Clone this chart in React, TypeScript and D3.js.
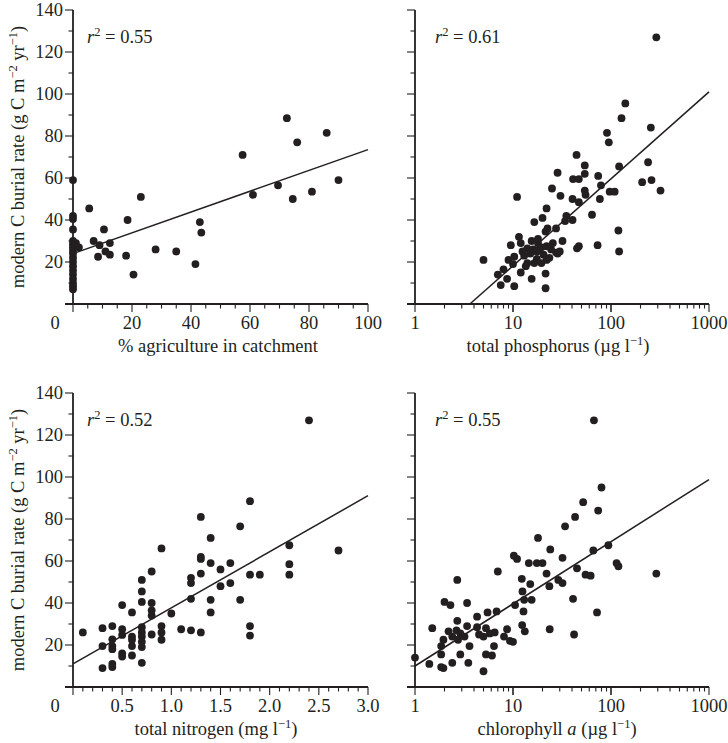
import React from 'react';
import * as d3 from 'd3';

// ---------- data ----------
const agriculturePoints: [number, number][] = [
  [0, 59], [0, 42], [0, 40.5], [0, 35.5], [0, 30], [0, 28.5], [0, 27], [0, 25.5], [0, 24], [0, 22],
  [0, 20], [0, 18], [0, 16], [0, 14], [0, 12], [0, 10], [0, 8.5], [0, 7],
  [1, 29], [2, 27], [5.5, 45.5], [7, 30], [9, 28], [8.5, 22.5], [10.5, 35.5], [11, 25], [12.5, 29],
  [12.5, 23.5], [18.5, 40], [18, 23], [20.5, 14], [23, 51], [28, 26], [35, 25], [41.5, 19], [43, 39],
  [43.5, 34], [57.5, 71], [61, 52], [69.5, 56.5], [72.5, 88.5], [74.5, 50], [76, 77], [81, 53.5],
  [86, 81.5], [90, 59],
];

const phosphorusPoints: [number, number][] = [
  [290, 127], [140, 95.5], [128, 88.5], [255, 84], [91, 81.5], [95, 77], [44.5, 71], [54, 66], [121, 65.5],
  [239, 67.5], [28.5, 62.5], [54, 62], [74, 61], [41, 59.5], [47, 59.5], [79, 56.5], [208, 58], [259, 59],
  [25, 55], [54, 54], [97, 53.5], [109, 53.5], [320, 54], [11, 51], [30.5, 51.5], [55, 52], [40.5, 50],
  [47, 48.5], [77, 50], [22, 45.5], [35, 42], [64, 42.5], [16.5, 39], [20, 41], [34, 39.5], [40.5, 40],
  [22.5, 36], [27.5, 36], [21.5, 34.5], [119, 35], [11.5, 32], [15.5, 30], [32, 30], [9.5, 28], [12, 29],
  [18, 29], [25.5, 29], [14, 26.5], [16, 26], [19.5, 27], [45, 26.5], [47, 27.5], [73, 28], [5, 21], [9, 21],
  [10.3, 22.5], [12.5, 25], [15, 24], [17.5, 25], [20.5, 23.5], [23.5, 22], [27.5, 24.5], [28.5, 24],
  [121, 25], [10, 19], [14, 19.5], [17.5, 21.5], [19.5, 19.5], [22, 21], [8, 16.5], [13.5, 18], [12, 15],
  [7, 14], [8.7, 12], [7.5, 9], [10.3, 8.5], [15.5, 12], [21.5, 14.5], [21.5, 7.5], [18.5, 26], [16.5, 19.5],
  [22, 27.5], [30, 25], [24.5, 26], [18, 31], [13, 23],
];

const nitrogenPoints: [number, number][] = [
  [2.4, 127], [1.8, 88.5], [1.3, 81], [1.7, 76.5], [1.4, 71], [0.9, 66], [2.2, 67.5], [2.7, 65], [1.3, 62],
  [1.3, 61], [1.4, 59], [1.6, 59], [1.5, 56], [2.2, 58.5], [0.8, 55], [1.8, 53.5], [1.9, 53.5], [2.2, 53.5],
  [1.2, 52], [1.2, 49.5], [1.3, 54], [0.7, 51], [1.5, 48], [1.6, 49.5], [0.7, 45.5], [1.2, 42], [1.4, 41.5],
  [1.7, 41.5], [0.7, 40.5], [0.8, 40], [0.5, 39], [0.6, 35.5], [0.8, 36.5], [0.8, 34], [1.0, 35], [1.4, 35.5],
  [0.3, 28], [0.1, 26], [0.4, 29], [0.5, 27.5], [0.5, 24.8], [0.6, 24], [0.6, 22.5], [0.6, 19.5], [0.7, 28.5],
  [0.7, 26], [0.7, 24], [0.7, 21.5], [0.7, 19], [0.8, 25], [0.9, 29], [0.9, 26], [0.9, 22.5], [1.1, 27.5],
  [1.2, 27], [1.3, 26], [1.8, 29], [1.8, 24.5], [0.3, 19.5], [0.4, 22.7], [0.4, 19.5], [0.4, 18], [0.5, 16],
  [0.5, 14.5], [0.6, 15], [0.7, 11.5], [0.3, 9], [0.4, 11], [0.4, 9.5],
];

const chlorophyllPoints: [number, number][] = [
  [67, 127], [80, 95], [52, 88], [43, 81], [74, 84], [34, 76.5], [18, 71], [24, 65.5], [94, 67.5], [66, 65],
  [10.2, 62.5], [11, 61], [32, 61.5], [14.5, 59], [17.5, 59], [20, 59], [114, 59], [119, 57.5], [45, 56.5],
  [7, 55], [22, 54], [55, 53.5], [62, 53], [290, 54], [2.7, 51], [12.3, 51.5], [29, 51], [15, 49], [23.5, 48],
  [32, 49.5], [12.5, 45.5], [2, 40.5], [3.4, 40], [2.3, 39], [13, 41.5], [15.5, 41.5], [41, 42], [10.5, 39],
  [12.8, 36], [72, 35.5], [4.3, 33.5], [5.5, 35.5], [6.8, 36], [2.7, 31.5], [3.4, 29], [4.3, 28.5], [5.3, 28],
  [8.7, 27.5], [12.4, 29.5], [13.2, 26.5], [23.7, 27.5], [42, 25], [1.5, 28], [2.2, 26.5], [1.95, 22.5],
  [1.85, 19.5], [2.4, 24], [2.65, 27], [2.75, 22.5], [2.9, 25.5], [3.2, 24], [3.6, 19.5], [4.5, 25], [5, 24],
  [5.8, 25.5], [6.5, 26], [6.4, 19.5], [5.3, 15.5], [6.1, 15], [8.1, 24], [9.3, 22], [10, 21.5], [2.9, 15.5],
  [3.5, 11.5], [2.4, 11.5], [1.85, 15.5], [1.4, 11], [1, 14], [1.85, 9.5], [1.95, 9], [5, 7.5],
];

// regression fits: y = intercept + slope * x   (log panels: x -> log10 x)
const agricultureFit = { intercept: 24, slope: 0.495, from: 0, to: 100 };
const phosphorusFit = { intercept: -23.2, slope: 41.4, from: 3.63, to: 1000 };
const nitrogenFit = { intercept: 11, slope: 26.7, from: 0, to: 3 };
const chlorophyllFit = { intercept: 10, slope: 29.6, from: 1, to: 1000 };

const r2Labels = ['0.55', '0.61', '0.52', '0.55'];

const yMajorTicks = [20, 40, 60, 80, 100, 120, 140];
const yMinorTicks = d3.range(0, 141, 10);
const agricultureMajor = [0, 20, 40, 60, 80, 100];
const agricultureMinor = d3.range(0, 101, 5);
const nitrogenMajor = [0, 0.5, 1.0, 1.5, 2.0, 2.5, 3.0];
const nitrogenMinor = d3.range(0, 31, 1).map((d) => d / 10);
const logMajor = [1, 10, 100, 1000];
const logMinor = [1, 10, 100].flatMap((b) => d3.range(1, 11).map((m) => b * m));

const INK = '#231f20';
const FONT = '"Liberation Serif", "Times New Roman", serif';
const FS = 18.5;

type PanelProps = {
  left: number;
  right: number;
  top: number;
  bottom: number;
  kind: 'lin' | 'log';
  domain: [number, number];
  points: [number, number][];
  fit: { intercept: number; slope: number; from: number; to: number };
  majors: number[];
  minors: number[];
  fmt: (d: number) => string;
  r2: string;
  yLabels: boolean;
  title: React.ReactNode;
  titleX: number;
};

function Panel(p: PanelProps) {
  const x =
    p.kind === 'log'
      ? d3.scaleLog().domain(p.domain).range([p.left, p.right])
      : d3.scaleLinear().domain(p.domain).range([p.left, p.right]);
  const y = d3.scaleLinear().domain([0, 140]).range([p.bottom, p.top]);
  const fy = (v: number) =>
    p.fit.intercept + p.fit.slope * (p.kind === 'log' ? Math.log10(v) : v);
  const majorSet = new Set(p.majors.map((d) => d.toFixed(3)));
  return (
    <g>
      {/* y axis */}
      <line x1={p.left} x2={p.left} y1={y(140)} y2={y(0)} stroke={INK} strokeWidth={1.8} />
      {yMinorTicks.map((t) => {
        const major = t % 20 === 0;
        return (
          <line key={'yt' + t} x1={p.left - (major ? 8 : 4.5)} x2={p.left} y1={y(t)} y2={y(t)} stroke={INK} strokeWidth={1.1} />
        );
      })}
      {p.yLabels &&
        yMajorTicks.map((t) => (
          <text key={'yl' + t} x={p.left - 10} y={y(t)} dy="0.34em" textAnchor="end" fontSize={FS} fontFamily={FONT} fill={INK}>
            {t}
          </text>
        ))}
      {/* x axis */}
      <line x1={p.left - 8} x2={p.right} y1={p.bottom} y2={p.bottom} stroke={INK} strokeWidth={1.8} />
      {p.minors.map((t, i) => {
        const major = majorSet.has(t.toFixed(3));
        return (
          <line key={'xt' + i} x1={x(t)} x2={x(t)} y1={p.bottom} y2={p.bottom + (major ? 8 : 4.5)} stroke={INK} strokeWidth={1.1} />
        );
      })}
      {p.majors.map((t, i) => (
        <text
          key={'xl' + i}
          x={p.kind === 'lin' && t === 0 ? x(t) - 18 : x(t)}
          y={p.bottom + 25}
          textAnchor="middle"
          fontSize={FS}
          fontFamily={FONT}
          fill={INK}
        >
          {p.fmt(t)}
        </text>
      ))}
      <text x={p.titleX} y={p.bottom + 48} textAnchor="middle" fontSize={FS} fontFamily={FONT} fill={INK}>
        {p.title}
      </text>
      {/* fit line */}
      <line x1={x(p.fit.from)} y1={y(fy(p.fit.from))} x2={x(p.fit.to)} y2={y(fy(p.fit.to))} stroke={INK} strokeWidth={1.5} />
      {/* points */}
      {p.points.map((d, i) => (
        <circle key={'pt' + i} cx={x(d[0])} cy={y(d[1])} r={3.9} fill={INK} />
      ))}
      {/* r2 */}
      <text x={p.left + (p.yLabels ? 14 : 20)} y={p.top + 33} fontSize={FS} fontFamily={FONT} fill={INK}>
        <tspan fontStyle="italic">r</tspan>
        <tspan dy={-7} fontSize={12.5}>2</tspan>
        <tspan dy={7}>{' = ' + p.r2}</tspan>
      </text>
    </g>
  );
}

function Unit({ u }: { u: string }) {
  return (
    <>
      <tspan>{' (' + u + ' l'}</tspan>
      <tspan dy={-7} fontSize={12.5}>{'\u22121'}</tspan>
      <tspan dy={7}>)</tspan>
    </>
  );
}

function YTitle({ cy }: { cy: number }) {
  return (
    <text transform={`translate(24,${cy}) rotate(-90)`} textAnchor="middle" fontSize={FS} fontFamily={FONT} fill={INK}>
      <tspan>modern C burial rate (g C m</tspan>
      <tspan dy={-7} fontSize={12.5}>{'\u22122'}</tspan>
      <tspan dy={7}> yr</tspan>
      <tspan dy={-7} fontSize={12.5}>{'\u22121'}</tspan>
      <tspan dy={7}>)</tspan>
    </text>
  );
}

export default function App() {
  const linFmt = (d: number) => String(d);
  const nFmt = (d: number) => (d === 0 ? '0' : d.toFixed(1));
  const logFmt = (d: number) => String(d);
  return (
    <svg width={728} height={743} style={{ position: 'absolute', left: 0, top: 0, background: '#fff' }}>
      <rect width={728} height={743} fill="#fff" />
      <YTitle cy={157} />
      <YTitle cy={540} />
      <Panel
        left={73} right={368} top={10} bottom={304} kind="lin" domain={[0, 100]}
        points={agriculturePoints} fit={agricultureFit} majors={agricultureMajor} minors={agricultureMinor}
        fmt={linFmt} r2={r2Labels[0]} yLabels={true} titleX={218}
        title={<tspan>% agriculture in catchment</tspan>}
      />
      <Panel
        left={415} right={709} top={10} bottom={304} kind="log" domain={[1, 1000]}
        points={phosphorusPoints} fit={phosphorusFit} majors={logMajor} minors={logMinor}
        fmt={logFmt} r2={r2Labels[1]} yLabels={false} titleX={558}
        title={<><tspan>total phosphorus</tspan><Unit u={'\u00b5g'} /></>}
      />
      <Panel
        left={73} right={368} top={393} bottom={687} kind="lin" domain={[0, 3]}
        points={nitrogenPoints} fit={nitrogenFit} majors={nitrogenMajor} minors={nitrogenMinor}
        fmt={nFmt} r2={r2Labels[2]} yLabels={true} titleX={216}
        title={<><tspan>total nitrogen</tspan><Unit u="mg" /></>}
      />
      <Panel
        left={415} right={709} top={393} bottom={687} kind="log" domain={[1, 1000]}
        points={chlorophyllPoints} fit={chlorophyllFit} majors={logMajor} minors={logMinor}
        fmt={logFmt} r2={r2Labels[3]} yLabels={false} titleX={557}
        title={<><tspan>chlorophyll </tspan><tspan fontStyle="italic">a</tspan><Unit u={'\u00b5g'} /></>}
      />
    </svg>
  );
}
